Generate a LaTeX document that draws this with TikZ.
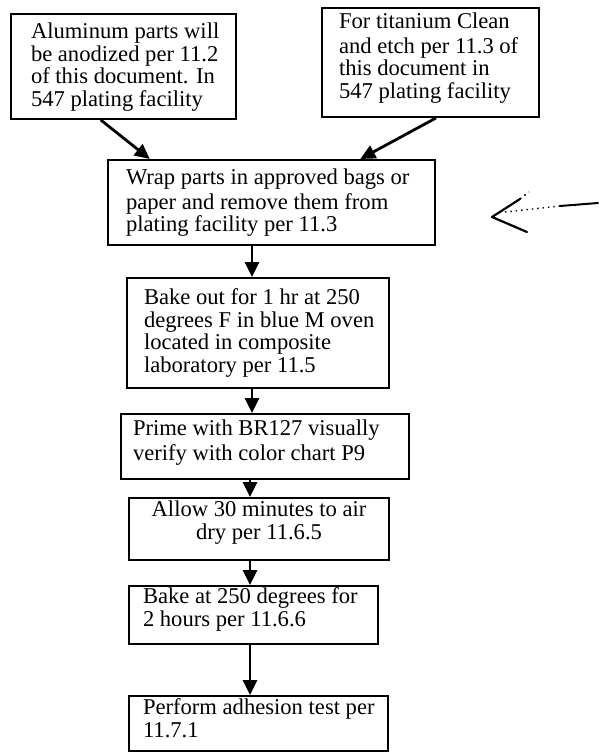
\documentclass[tikz,border=0pt]{standalone}
\usepackage{fontspec}
\setmainfont{Liberation Serif}
\usetikzlibrary{arrows.meta,calc}
\newcommand{\flowtext}[5]{\parbox[c][#2][t]{#1}{\vspace*{#4}\leftskip=#3\relax\rightskip=0pt plus 1fil\relax\parindent=0pt\strut#5}}
\newcommand{\flowtextc}[4]{\parbox[c][#2][t]{#1}{\vspace*{#3}\centering\strut#4}}
\tikzset{
  flowbox/.style={draw, line width=1pt, inner sep=0pt, anchor=north west,
    font=\fontsize{11.3}{11.3}\selectfont},
  arr/.style={line width=1.4pt, -{Triangle[length=7.5pt,width=7pt]}},
  hand/.style={line width=1.1pt, line cap=round, line join=round}
}
\begin{document}
\begin{tikzpicture}[x=0.5pt,y=-0.5pt]
\useasboundingbox (0,0) rectangle (600,754);
\fill[white] (0,0) rectangle (600,754);

\node[flowbox] (alum) at (10,13) {\flowtext{112.5pt}{52.5pt}{10pt}{4.4pt}{Aluminum parts will\\be anodized per 11.2\\of this document. In\\547 plating facility}};
\node[flowbox] (ti) at (321,7) {\flowtext{108.5pt}{54.5pt}{8.5pt}{2.4pt}{For titanium Clean\\and etch per 11.3 of\\this document in\\547 plating facility}};
\node[flowbox] (wrap) at (107,159) {\flowtext{163.5pt}{42.5pt}{9pt}{4.4pt}{Wrap parts in approved bags or\\paper and remove them from\\plating facility per 11.3}};
\node[flowbox] (bake1) at (126,277) {\flowtext{131pt}{55pt}{8.5pt}{5.4pt}{Bake out for 1 hr at 250\\degrees F in blue M oven\\located in composite\\laboratory per 11.5}};
\node[flowbox] (prime) at (120,413) {\flowtext{144pt}{32.5pt}{6pt}{2.9pt}{Prime with BR127 visually\\verify with color chart P9}};
\node[flowbox] (allow) at (128,497) {\flowtextc{130pt}{31pt}{1.4pt}{Allow 30 minutes to air\\dry per 11.6.5}};
\node[flowbox] (bake2) at (128,585) {\flowtext{124.5pt}{29pt}{7pt}{0.9pt}{Bake at 250 degrees for\\2 hours per 11.6.6}};
\node[flowbox] (perform) at (128,695) {\flowtext{129.5pt}{27.5pt}{7pt}{1.4pt}{Perform adhesion test per\\11.7.1}};

\draw[arr] ($(alum.south west)!0.4!(alum.south east)$) -- ($(wrap.north west)!0.13!(wrap.north east)$);
\draw[arr] ($(ti.south west)!0.525!(ti.south east)$) -- ($(wrap.north west)!0.77!(wrap.north east)$);

\coordinate (spine) at (252,0);
\coordinate (spine2) at (250,0);
\draw[arr] (wrap.south -| spine) -- (bake1.north -| spine);
\draw[arr] (bake1.south -| spine) -- (prime.north -| spine);
\draw[arr] (prime.south -| spine2) -- (allow.north -| spine2);
\draw[arr] (allow.south -| spine2) -- (bake2.north -| spine2);
\draw[arr] (bake2.south -| spine2) -- (perform.north -| spine2);

% hand-drawn arrow at right
\coordinate (tip) at (492,217);
\coordinate (barbup) at (520,199);
\coordinate (barbupend) at (529,192);
\coordinate (barblow) at (527,232);
\coordinate (shaftstart) at (505,212);
\coordinate (shaftmid) at (560,206);
\coordinate (shaftend) at (598,203);
\draw[hand] (barbup) -- (tip) -- (barblow);
\draw[line width=0.8pt, dotted] (barbup) -- (barbupend);
\draw[line width=0.7pt, dotted] (shaftstart) -- (shaftmid);
\draw[line width=1pt, line cap=round] (shaftmid) -- (shaftend);
\end{tikzpicture}
\end{document}
